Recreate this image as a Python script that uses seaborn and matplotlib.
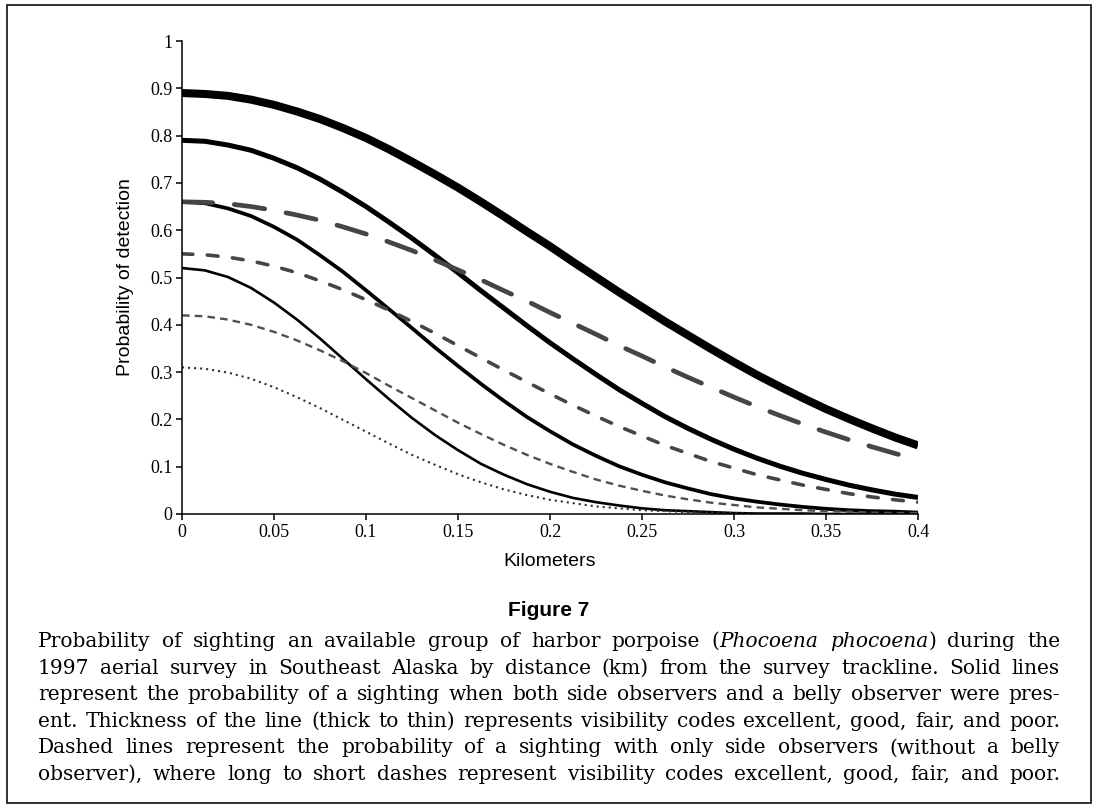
import matplotlib
matplotlib.use("Agg")
import matplotlib.pyplot as plt
import pandas as pd
import seaborn as sns
from matplotlib.patches import Rectangle

# distance from trackline (km), read every 0.0125 km
km = [0.0, 0.0125, 0.025, 0.0375, 0.05, 0.0625, 0.075, 0.0875, 0.1, 0.1125, 0.125,
      0.1375, 0.15, 0.1625, 0.175, 0.1875, 0.2, 0.2125, 0.225, 0.2375, 0.25,
      0.2625, 0.275, 0.2875, 0.3, 0.3125, 0.325, 0.3375, 0.35, 0.3625, 0.375, 0.3875, 0.4]

# side observers + belly observer (solid lines)
belly_excellent = [0.890, 0.888, 0.884, 0.876, 0.865, 0.851, 0.835, 0.816, 0.795, 0.771, 0.745,
                   0.718, 0.690, 0.660, 0.629, 0.597, 0.566, 0.533, 0.501, 0.469, 0.438,
                   0.407, 0.378, 0.349, 0.321, 0.294, 0.269, 0.245, 0.222, 0.201, 0.181, 0.162, 0.145]
belly_good = [0.790, 0.788, 0.780, 0.769, 0.752, 0.732, 0.708, 0.680, 0.650, 0.617, 0.583,
              0.547, 0.510, 0.472, 0.435, 0.398, 0.362, 0.328, 0.295, 0.263, 0.234,
              0.206, 0.181, 0.158, 0.137, 0.118, 0.101, 0.086, 0.073, 0.061, 0.051, 0.042, 0.035]
belly_fair = [0.660, 0.657, 0.646, 0.630, 0.607, 0.580, 0.547, 0.512, 0.473, 0.433, 0.393,
              0.352, 0.313, 0.275, 0.239, 0.205, 0.175, 0.147, 0.123, 0.101, 0.083,
              0.067, 0.054, 0.042, 0.033, 0.026, 0.020, 0.015, 0.011, 0.008, 0.006, 0.005, 0.003]
belly_poor = [0.520, 0.515, 0.501, 0.478, 0.447, 0.411, 0.371, 0.328, 0.285, 0.243, 0.203,
              0.167, 0.135, 0.106, 0.083, 0.063, 0.047, 0.034, 0.025, 0.018, 0.012,
              0.008, 0.006, 0.004, 0.002, 0.001, 0.001, 0.001, 0.000, 0.000, 0.000, 0.000, 0.000]

# side observers only (dashed lines)
side_excellent = [0.660, 0.659, 0.656, 0.650, 0.642, 0.632, 0.621, 0.607, 0.592, 0.575, 0.557,
                  0.537, 0.516, 0.495, 0.472, 0.450, 0.426, 0.403, 0.380, 0.356, 0.334,
                  0.311, 0.289, 0.268, 0.247, 0.227, 0.208, 0.190, 0.173, 0.157, 0.142, 0.128, 0.115]
side_good = [0.550, 0.548, 0.543, 0.535, 0.524, 0.510, 0.493, 0.474, 0.453, 0.431, 0.407,
             0.382, 0.356, 0.330, 0.304, 0.279, 0.254, 0.230, 0.207, 0.185, 0.165,
             0.145, 0.128, 0.111, 0.097, 0.083, 0.072, 0.061, 0.052, 0.043, 0.036, 0.030, 0.025]
side_fair = [0.420, 0.418, 0.411, 0.400, 0.385, 0.367, 0.346, 0.323, 0.298, 0.271, 0.245,
             0.219, 0.193, 0.169, 0.146, 0.125, 0.106, 0.089, 0.073, 0.060, 0.049,
             0.039, 0.031, 0.024, 0.019, 0.014, 0.011, 0.008, 0.006, 0.005, 0.003, 0.002, 0.002]
side_poor = [0.310, 0.307, 0.299, 0.286, 0.268, 0.247, 0.224, 0.199, 0.174, 0.149, 0.125,
             0.104, 0.084, 0.067, 0.052, 0.040, 0.030, 0.023, 0.016, 0.012, 0.008,
             0.006, 0.004, 0.003, 0.002, 0.001, 0.001, 0.000, 0.000, 0.000, 0.000, 0.000, 0.000]

x_ticks = [0, 0.05, 0.1, 0.15, 0.2, 0.25, 0.3, 0.35, 0.4]
x_tick_labels = ["0", "0.05", "0.1", "0.15", "0.2", "0.25", "0.3", "0.35", "0.4"]
y_ticks = [0, 0.1, 0.2, 0.3, 0.4, 0.5, 0.6, 0.7, 0.8, 0.9, 1]
y_tick_labels = ["0", "0.1", "0.2", "0.3", "0.4", "0.5", "0.6", "0.7", "0.8", "0.9", "1"]

caption_lines = [
    "Probability of sighting an available group of harbor porpoise (*Phocoena* *phocoena*) during the",
    "1997 aerial survey in Southeast Alaska by distance (km) from the survey trackline. Solid lines",
    "represent the probability of a sighting when both side observers and a belly observer were pres-",
    "ent. Thickness of the line (thick to thin) represents visibility codes excellent, good, fair, and poor.",
    "Dashed lines represent the probability of a sighting with only side observers (without a belly",
    "observer), where long to short dashes represent visibility codes excellent, good, fair, and poor.",
]

df = pd.DataFrame({
    "km": km,
    "belly_excellent": belly_excellent,
    "belly_good": belly_good,
    "belly_fair": belly_fair,
    "belly_poor": belly_poor,
    "side_excellent": side_excellent,
    "side_good": side_good,
    "side_fair": side_fair,
    "side_poor": side_poor,
})

# line styles: (color, width, linestyle, capstyle)
styles = {
    "belly_excellent": ("black", 5.8, "-", "butt"),
    "belly_good": ("black", 3.6, "-", "butt"),
    "belly_fair": ("black", 2.7, "-", "butt"),
    "belly_poor": ("black", 1.9, "-", "butt"),
    "side_excellent": ("#454545", 3.4, (0, (6.5, 4.6)), "round"),
    "side_good": ("#454545", 2.6, (0, (3.0, 4.0)), "round"),
    "side_fair": ("#505050", 1.7, (0, (3.2, 2.2)), "butt"),
    "side_poor": ("#303030", 1.5, (0, (1.0, 1.9)), "butt"),
}

W, H = 1098, 809
sns.set_style("ticks")
plt.rcParams["font.family"] = ["Liberation Serif", "DejaVu Serif"]
plt.rcParams["text.color"] = "black"
plt.rcParams["axes.labelcolor"] = "black"

fig = plt.figure(figsize=(W / 100, H / 100), dpi=100)
ax = fig.add_axes([182 / W, 1 - 514 / H, (918 - 182) / W, (514 - 41) / H])

for name, (color, lw, ls, cap) in styles.items():
    sns.lineplot(data=df, x="km", y=name, ax=ax, color=color, linewidth=lw,
                 linestyle=ls, dash_capstyle=cap, solid_capstyle="butt",
                 solid_joinstyle="round", errorbar=None)

ax.set_xlim(0, 0.4)
ax.set_ylim(0, 1)
ax.set_xticks(x_ticks)
ax.set_xticklabels(x_tick_labels)
ax.set_yticks(y_ticks)
ax.set_yticklabels(y_tick_labels)
ax.tick_params(direction="out", length=4, width=1.1, labelsize=13, pad=3, colors="black")
sns.despine(ax=ax)
for side in ["left", "bottom"]:
    ax.spines[side].set_linewidth(1.1)
    ax.spines[side].set_color("black")

ax.set_xlabel("Kilometers", fontsize=14, family="Liberation Sans", color="black")
ax.set_ylabel("Probability of detection", fontsize=14, family="Liberation Sans", color="black")
ax.xaxis.set_label_coords(0.5, (514 - 562) / 473)
ax.xaxis.label.set_va("center")
ax.yaxis.set_label_coords((126 - 182) / 736, 0.5)
ax.yaxis.label.set_va("center")

# frame around the whole figure
fig.patches.append(Rectangle((7 / W, 1 - 803 / H), (1091 - 7) / W, (803 - 5) / H,
                             transform=fig.transFigure, fill=False, lw=1.3, ec="#222222"))

fig.text(549 / W, 1 - 610 / H, "Figure 7", ha="center", va="center", color="black",
         fontsize=15, fontweight="bold", family="Liberation Sans")

# justified caption
cap_font = dict(fontsize=14.5, family="DejaVu Serif", color="black")
left_px, right_px = 38, 1060
baseline0, line_step = 647, 26.6
renderer = fig.canvas.get_renderer()
for i, line in enumerate(caption_lines):
    y = 1 - (baseline0 + i * line_step) / H
    words = []
    for word in line.split(" "):
        segs = []
        for j, part in enumerate(word.split("*")):
            if part:
                t = fig.text(0, y, part, va="baseline", ha="left",
                             style="italic" if j % 2 else "normal", **cap_font)
                segs.append((t, t.get_window_extent(renderer).width))
        words.append(segs)
    total = sum(w for segs in words for _, w in segs)
    gap = (right_px - left_px - total) / (len(words) - 1)
    x = left_px
    for segs in words:
        for t, w in segs:
            t.set_x(x / W)
            x += w
        x += gap

fig.savefig("out.png", dpi=100)
